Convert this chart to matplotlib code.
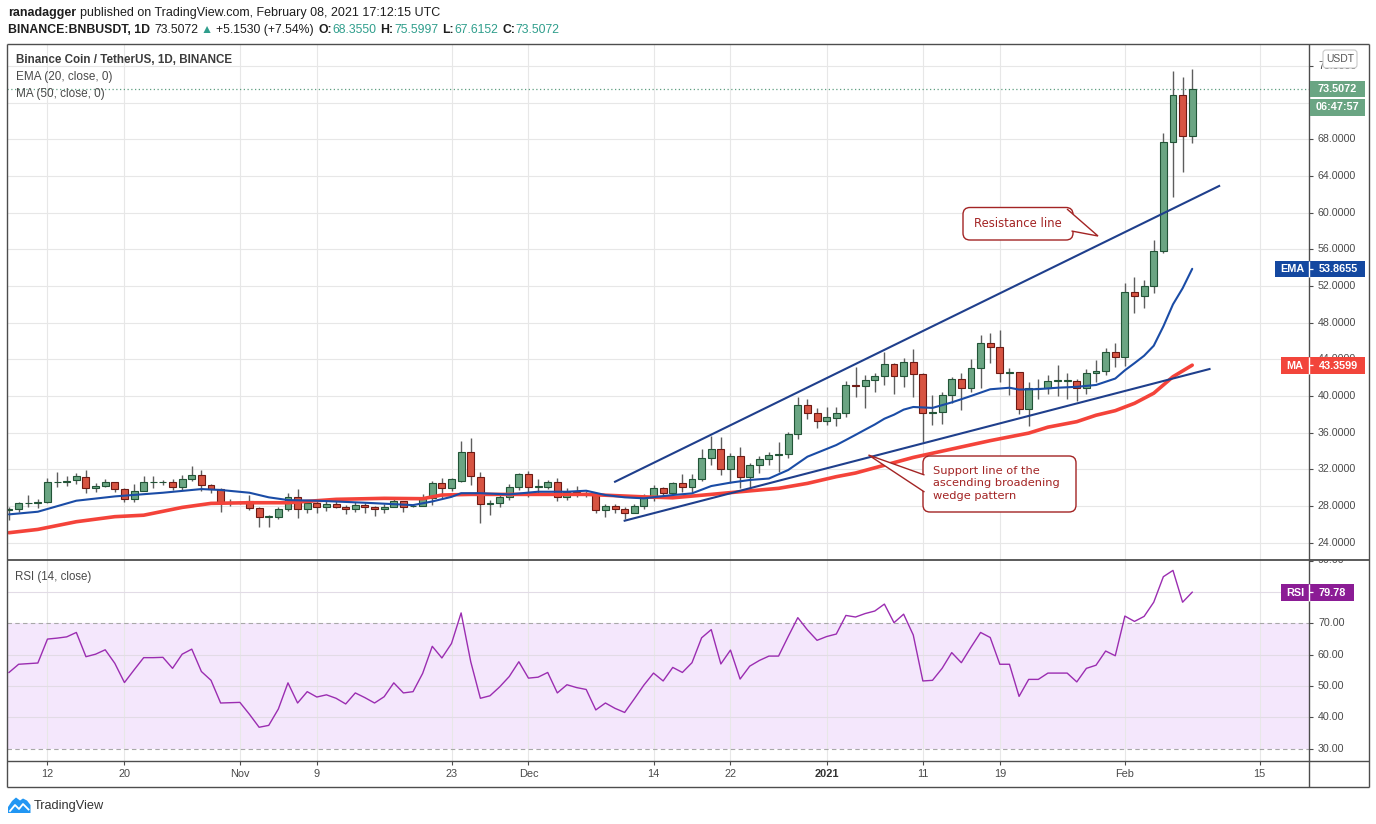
import datetime as dt
import numpy as np
import matplotlib
matplotlib.use('Agg')
import matplotlib.pyplot as plt
import matplotlib.transforms as mtransforms
from matplotlib.patches import Rectangle, FancyBboxPatch, PathPatch, Polygon
from matplotlib.path import Path
from matplotlib.lines import Line2D

# ---------------- data ----------------
first_day = dt.date(2020, 10, 8)

opens = [27.6, 27.64, 28.3, 28.36, 28.4, 30.58, 30.65, 30.8, 31.2, 29.93,
         30.18, 30.58, 29.82, 28.73, 29.6, 30.58, 30.6, 30.58, 30.04, 30.91,
         31.35, 30.25, 29.82, 28.4, 28.43, 28.5, 27.75, 26.8, 26.83, 27.64,
         28.95, 27.64, 28.29, 27.93, 28.22, 27.93, 27.64, 28.07, 27.85, 27.64,
         27.85, 28.5, 27.98, 28.04, 28.84, 30.47, 29.93, 30.73, 33.85, 31.2,
         28.22, 28.36, 29.02, 30.04, 31.45, 30.1, 30.1, 30.58, 28.95, 29.56,
         29.38, 29.27, 27.56, 28.04, 27.64, 27.27, 28.04, 29.02, 29.93, 29.38,
         30.47, 30.1, 30.91, 33.2, 34.18, 32.0, 33.45, 31.13, 32.44, 33.09,
         33.56, 33.67, 35.82, 39.02, 38.1, 37.27, 37.64, 38.11, 41.2, 41.05,
         41.75, 42.18, 43.49, 42.22, 43.75, 42.36, 38.1, 38.22, 40.1, 41.82,
         40.84, 43.0, 45.75, 45.3, 42.47, 42.58, 38.55, 40.84, 40.84, 41.67,
         41.67, 41.67, 40.84, 42.47, 42.76, 44.76, 44.2, 51.38, 50.95, 52.04,
         55.85, 67.64, 72.8, 68.355]
highs = [27.9, 28.47, 29.2, 28.8, 31.09, 31.74, 31.27, 31.64, 31.93, 30.47,
         30.91, 30.65, 29.93, 30.4, 31.27, 31.27, 30.84, 30.9, 31.38, 32.36,
         31.93, 30.4, 29.93, 28.8, 28.6, 29.24, 27.85, 27.0, 27.85, 29.38,
         29.82, 28.65, 28.8, 28.65, 28.65, 28.1, 28.47, 28.36, 28.0, 28.22,
         28.73, 28.58, 28.2, 29.31, 30.76, 31.02, 31.1, 35.09, 35.38, 31.74,
         28.65, 29.45, 30.4, 31.64, 31.86, 30.9, 30.84, 31.02, 29.93, 30.18,
         29.67, 29.38, 28.22, 28.22, 27.85, 28.22, 29.31, 30.29, 30.04, 30.65,
         31.49, 31.49, 34.22, 35.64, 35.49, 33.82, 34.4, 32.73, 33.45, 33.93,
         35.0, 36.04, 39.9, 39.7, 38.65, 38.84, 38.77, 41.64, 43.2, 42.29,
         42.47, 44.84, 43.64, 44.1, 45.1, 42.47, 40.1, 40.47, 42.1, 42.47,
         44.0, 46.65, 46.84, 47.2, 43.0, 42.65, 41.56, 41.82, 42.29, 43.38,
         42.5, 41.82, 42.9, 43.93, 45.2, 45.75, 52.3, 52.95, 52.65, 57.0,
         68.65, 75.45, 74.76, 75.5997]
lows = [26.5, 27.39, 27.9, 27.75, 28.29, 30.1, 30.2, 30.36, 29.45, 29.56,
        30.1, 29.56, 28.4, 28.47, 29.6, 29.93, 30.3, 29.75, 29.75, 30.76,
        29.67, 29.38, 27.39, 28.0, 28.2, 27.56, 25.67, 25.75, 26.55, 27.5,
        26.73, 27.27, 27.27, 27.5, 27.75, 27.1, 27.39, 27.27, 26.9, 27.27,
        27.85, 27.39, 27.85, 28.0, 28.1, 28.84, 29.67, 30.58, 30.29, 26.18,
        27.02, 27.85, 28.65, 29.75, 29.02, 29.38, 29.82, 28.58, 28.65, 28.95,
        28.95, 27.27, 26.84, 27.27, 26.58, 27.2, 27.64, 28.58, 29.2, 29.31,
        29.56, 29.56, 30.76, 32.47, 31.38, 30.47, 29.93, 29.93, 31.64, 32.47,
        31.75, 33.2, 35.27, 37.5, 36.47, 36.84, 36.73, 37.71, 39.9, 38.65,
        40.4, 41.2, 40.18, 41.0, 39.93, 35.0, 36.84, 36.9, 39.2, 38.47,
        40.47, 40.84, 43.56, 41.56, 40.1, 38.04, 36.7, 39.67, 40.22, 40.0,
        39.64, 39.5, 40.2, 41.56, 42.3, 43.2, 43.3, 49.1, 49.64, 51.2,
        55.6, 61.67, 64.4, 67.6152]
closes = [27.7, 28.29, 28.36, 28.38, 30.58, 30.65, 30.76, 31.27, 29.93, 30.18,
          30.58, 29.82, 28.73, 29.6, 30.58, 30.6, 30.62, 30.04, 30.91, 31.35,
          30.25, 29.82, 28.4, 28.43, 28.45, 27.75, 26.76, 26.83, 27.64, 28.95,
          27.64, 28.29, 27.93, 28.22, 27.93, 27.64, 28.07, 27.85, 27.64, 27.85,
          28.5, 27.93, 28.04, 28.84, 30.47, 29.93, 30.91, 33.85, 31.27, 28.22,
          28.36, 29.02, 30.04, 31.45, 30.1, 30.2, 30.58, 28.95, 29.56, 29.38,
          29.27, 27.56, 28.04, 27.64, 27.2, 28.04, 29.02, 29.93, 29.38, 30.47,
          30.1, 30.91, 33.2, 34.18, 32.0, 33.45, 31.13, 32.44, 33.09, 33.56,
          33.67, 35.82, 39.02, 38.1, 37.27, 37.67, 38.11, 41.2, 41.05, 41.75,
          42.18, 43.49, 42.18, 43.75, 42.36, 38.1, 38.22, 40.1, 41.82, 40.84,
          43.0, 45.75, 45.3, 42.47, 42.58, 38.55, 40.84, 40.9, 41.67, 41.7,
          41.7, 40.84, 42.47, 42.76, 44.76, 44.2, 51.38, 50.95, 52.04, 55.85,
          67.64, 72.8, 68.354, 73.5072]

rsi_vals = [54.3, 56.9, 57.1, 57.3, 64.9, 65.2, 65.6, 67.0, 59.3, 60.1,
            61.5, 57.2, 51.1, 55.1, 59.0, 59.0, 59.1, 55.6, 60.1, 61.7,
            54.6, 51.8, 44.6, 44.7, 44.8, 41.0, 36.9, 37.5, 42.7, 51.0,
            44.6, 48.2, 46.5, 47.2, 46.1, 44.3, 47.8, 46.3, 44.6, 46.6,
            51.0, 47.8, 48.2, 54.0, 62.6, 58.9, 63.5, 73.2, 57.7, 46.1,
            46.9, 49.7, 53.0, 57.7, 52.5, 52.8, 54.3, 47.8, 50.4, 49.5,
            48.9, 42.4, 44.6, 42.9, 41.6, 45.9, 50.3, 54.1, 51.6, 55.9,
            54.3, 57.4, 65.3, 67.9, 57.0, 61.4, 52.2, 56.3, 58.1, 59.5,
            59.5, 65.7, 71.7, 67.8, 64.5, 65.7, 66.5, 72.4, 71.9, 73.0,
            73.8, 76.0, 70.1, 72.8, 66.2, 51.6, 51.8, 55.6, 60.6, 57.4,
            62.3, 67.0, 65.4, 56.9, 56.9, 46.7, 52.1, 52.1, 54.1, 54.1,
            54.1, 51.3, 55.6, 56.6, 61.1, 59.6, 72.2, 70.5, 72.1, 76.6,
            84.7, 86.7, 76.6, 79.78]

ema_days = [0, 3, 7, 11, 16, 20, 22, 25, 27, 29, 32, 37, 42, 44, 46, 47, 49, 52, 55, 58,
            60, 62, 64, 66, 69, 71, 73, 75, 77, 79, 81, 83, 86, 87, 88, 89, 90, 91, 92, 93,
            94, 96, 98, 100, 102, 104, 105, 107, 109, 111, 113, 115, 116, 117, 118, 119,
            120, 121, 122, 123]
ema_vals = [27.09, 27.38, 28.58, 29.05, 29.45, 29.85, 29.75, 29.45, 28.95, 28.65,
            28.58, 28.36, 28.1, 28.5, 29.0, 29.4, 29.4, 29.27, 29.56, 29.56,
            29.67, 29.2, 28.95, 28.84, 29.2, 29.38, 30.18, 30.55, 30.84, 31.0,
            31.93, 33.38, 34.65, 35.2, 35.76, 36.33, 36.89, 37.52, 37.96, 38.51,
            38.8, 38.7, 39.3, 40.0, 40.73, 40.9, 40.7, 40.75, 40.9, 41.0,
            41.2, 41.9, 42.8, 43.58, 44.39, 45.48, 47.59, 49.99, 51.74, 53.8655]

ma_days = [0, 3, 7, 11, 14, 18, 21, 25, 29, 34, 39, 43, 45, 48, 55, 60, 66, 69, 73, 76,
           80, 83, 86, 88, 94, 102, 106, 108, 111, 113, 115, 117, 119, 121, 123]
ma_vals = [25.09, 25.45, 26.29, 26.84, 27.0, 27.85, 28.29, 28.36, 28.36, 28.73,
           28.84, 28.8, 29.2, 29.27, 29.27, 29.27, 29.0, 28.9, 29.27, 29.56,
           29.93, 30.47, 31.2, 31.6, 33.3, 35.13, 35.95, 36.6, 37.2, 37.9,
           38.4, 39.2, 40.3, 42.1, 43.3599]

tick_dates = ['2020-10-12', '2020-10-20', '2020-11-01', '2020-11-09', '2020-11-23',
              '2020-12-01', '2020-12-14', '2020-12-22', '2021-01-01', '2021-01-11',
              '2021-01-19', '2021-02-01', '2021-02-15']
tick_labels = ['12', '20', 'Nov', '9', '23', 'Dec', '14', '22', '2021', '11', '19', 'Feb', '15']
price_ticks = [24, 28, 32, 36, 40, 44, 48, 52, 56, 60, 64, 68, 72, 76]
hidden_price_labels = [72]          # fully covered by the countdown label
rsi_ticks = [90, 70, 60, 50, 40, 30]

resistance_days = [63.0, 125.8]
resistance_vals = [30.65, 62.9]
support_days = [64.0, 124.8]
support_vals = [26.4, 42.94]

last_close = 73.5072
last_ema = 53.8655
last_ma = 43.3599
last_rsi = 79.78

# ---------------- style ----------------
plt.rcParams['font.family'] = ['Liberation Sans', 'DejaVu Sans']
GRID = '#e7e7e7'
FRAME = '#4d4d4d'
TXT = '#4a4a4a'
GREEN = '#6ba583'
GREEN_E = '#225437'
RED = '#d75442'
RED_E = '#6e1a14'
WICK = '#5e5e5e'
EMA_C = '#1a4ca6'
MA_C = '#f4433a'
TREND_C = '#1f3f8c'
RSI_C = '#9b2db1'
TEAL = '#2f9e8c'
CALL_C = '#a32424'

W, H = 1376, 824
fig = plt.figure(figsize=(W / 100, H / 100), dpi=100)
fig.patch.set_facecolor('white')
pix = mtransforms.Affine2D().scale(1, -1).translate(0, H)

L_PX, R_PX, T_PX, SEP_PX, RB_PX, TA_PX, BOT_PX = 7, 1309, 44, 559.5, 1369, 761, 787


def fr(x0, y0, x1, y1):
    return [x0 / W, 1 - y1 / H, (x1 - x0) / W, (y1 - y0) / H]


ax = fig.add_axes(fr(L_PX, T_PX, R_PX, SEP_PX))
ax2 = fig.add_axes(fr(L_PX, SEP_PX, R_PX, TA_PX))
for a in (ax, ax2):
    a.set_xlim(-0.208, 135.14)
    for s in a.spines.values():
        s.set_visible(False)
    a.set_xticks([])
    a.set_yticks([])
    a.set_facecolor('none')
ax.set_ylim(22.17, 78.38)
ax2.set_ylim(26.19, 90.16)

tick_days = [(dt.date.fromisoformat(s) - first_day).days for s in tick_dates]

# grid
for v in price_ticks:
    ax.axhline(v, color=GRID, lw=0.8, zorder=0)
for d in tick_days:
    ax.axvline(d, color=GRID, lw=0.8, zorder=0)
    ax2.axvline(d, color=GRID, lw=0.8, zorder=1)

# candles
x = np.arange(len(closes))
o = np.array(opens); c = np.array(closes); h = np.array(highs); l = np.array(lows)
up = c >= o
fills = [GREEN if u else RED for u in up]
edges = [GREEN_E if u else RED_E for u in up]
ax.vlines(x, l, h, colors=WICK, lw=1.0, zorder=3)
ax.bar(x, np.maximum(np.abs(c - o), 0.06), bottom=np.minimum(o, c), width=0.72,
       color=fills, edgecolor=edges, linewidth=0.8, zorder=4)

# indicators
ax.plot(ma_days, ma_vals, color=MA_C, lw=2.6, zorder=5, solid_capstyle='round')
ax.plot(ema_days, ema_vals, color=EMA_C, lw=1.5, zorder=6, solid_capstyle='round')
ax.plot(resistance_days, resistance_vals, color=TREND_C, lw=1.5, zorder=7)
ax.plot(support_days, support_vals, color=TREND_C, lw=1.5, zorder=7)
ax.axhline(last_close, color='#5f9f80', lw=0.9, ls=(0, (1, 2)), zorder=2)

# RSI pane
ax2.axhspan(30, 70, color='#f4e7fc', zorder=0, lw=0)
for v in [40, 50, 60, 80]:
    ax2.axhline(v, color='#e2dbe6', lw=0.8, zorder=1)
for v in [30, 70]:
    ax2.axhline(v, color='#a8a8a8', lw=0.8, ls=(0, (4, 3)), zorder=2)
ax2.plot(x, rsi_vals, color=RSI_C, lw=1.0, zorder=4)


# ---------------- figure-level helpers ----------------
def line(xs, ys, color=FRAME, lw=1.0, z=10):
    fig.add_artist(Line2D(xs, ys, transform=pix, color=color, lw=lw, solid_capstyle='butt', zorder=z))


def ptext(xp, yp, s, **kw):
    kw.setdefault('va', 'center')
    return fig.text(xp, yp, s, transform=pix, **kw)


def rect(x0, y0, x1, y1, color, z=11):
    fig.add_artist(Rectangle((x0, y0), x1 - x0, y1 - y0, transform=pix,
                             facecolor=color, edgecolor='none', zorder=z))


def ypx(a, v):
    return H - a.transData.transform((0, v))[1]


def xpx(d):
    return ax.transData.transform((d, 0))[0]


# frame
line([L_PX, RB_PX], [T_PX, T_PX])
line([L_PX, RB_PX], [SEP_PX, SEP_PX], lw=1.3)
line([L_PX, RB_PX], [TA_PX, TA_PX])
line([L_PX, RB_PX], [BOT_PX, BOT_PX])
line([L_PX, L_PX], [T_PX, BOT_PX])
line([RB_PX, RB_PX], [T_PX, BOT_PX])
line([R_PX, R_PX], [T_PX, BOT_PX])

# price axis labels
for v in price_ticks:
    yp = ypx(ax, v)
    if v not in hidden_price_labels:
        ptext(1318, yp, f'{v:.4f}', fontsize=7.7, color=TXT, ha='left')
    line([R_PX, R_PX + 4], [yp, yp], lw=0.8)

clip = mtransforms.Bbox.from_extents(R_PX, H - BOT_PX, RB_PX, H - SEP_PX - 0.8)
for v in rsi_ticks:
    yp = ypx(ax2, v)
    t = ptext(1318, yp, f'{v:.2f}', fontsize=7.7, color=TXT, ha='left')
    t.set_clip_box(clip)
    t.set_clip_on(True)
    line([R_PX, R_PX + 4], [max(yp, SEP_PX + 1.2)] * 2, lw=0.8)

# time axis labels
for d, lab in zip(tick_days, tick_labels):
    xp = xpx(d)
    ptext(xp, 774, lab, fontsize=7.9, color=('#333333' if lab == '2021' else TXT),
          ha='center', fontweight=('bold' if lab == '2021' else 'normal'))
    line([xp, xp], [TA_PX, TA_PX + 4], lw=0.8)

# USDT box
fig.add_artist(FancyBboxPatch((1323, 50), 34, 18, boxstyle='round,pad=0,rounding_size=3',
                              transform=pix, fc='white', ec='#c8c8c8', lw=0.8, zorder=12))
ptext(1340, 59.5, 'USDT', fontsize=7.5, color='#555555', ha='center', zorder=13)

# last price / countdown
LBL_G = '#6aa583'
yc = ypx(ax, last_close)
rect(1310, yc - 8, 1365, yc + 8.5, LBL_G)
ptext(1337.5, yc + 0.5, f'{last_close:.4f}', fontsize=7.8, color='white', fontweight='bold', ha='center', zorder=13)
rect(1310, yc + 10, 1365, yc + 27, LBL_G)
ptext(1337.5, yc + 18.5, '06:47:57', fontsize=7.8, color='white', fontweight='bold', ha='center', zorder=13)


def value_label(x0, x1, yv, color, name, name_x, val, val_x):
    rect(x0, yv - 8, x1, yv + 8.5, color)
    line([R_PX, R_PX], [yv - 8, yv + 8.5], color='white', lw=1.0, z=12)
    line([R_PX, R_PX + 4], [yv, yv], color='white', lw=0.9, z=12)
    ptext(name_x, yv + 0.5, name, fontsize=7.8, color='white', fontweight='bold', ha='center', zorder=13)
    ptext(val_x, yv + 0.5, val, fontsize=7.8, color='white', fontweight='bold', ha='center', zorder=13)


value_label(1275, 1365, ypx(ax, last_ema), '#1448a0', 'EMA', 1292, f'{last_ema:.4f}', 1338.5)
value_label(1281, 1365, ypx(ax, last_ma), '#f2453b', 'MA', 1295, f'{last_ma:.4f}', 1338.5)
value_label(1281, 1354, ypx(ax2, last_rsi), '#8b1c95', 'RSI', 1295, f'{last_rsi:.2f}', 1332.5)

# pane legends
ptext(16, 60, 'Binance Coin / TetherUS, 1D, BINANCE', fontsize=8.4, color='#3c3c3c',
      ha='left', fontweight='bold')
ptext(16, 77, 'EMA (20, close, 0)', fontsize=8.5, color=TXT, ha='left')
ptext(16, 94, 'MA (50, close, 0)', fontsize=8.5, color=TXT, ha='left')
ptext(15, 577, 'RSI (14, close)', fontsize=8.3, color=TXT, ha='left')

# header
renderer = fig.canvas.get_renderer()


def seq(xp, yp, parts, size):
    for s, col, wt, gap in parts:
        t = ptext(xp, yp, s, fontsize=size, color=col, fontweight=wt, ha='left')
        xp += t.get_window_extent(renderer=renderer).width + gap


HC = '#1e1e1e'
seq(8, 13, [('ranadagger', HC, 'bold', 3.5),
            ('published on TradingView.com, February 08, 2021 17:12:15 UTC', HC, 'normal', 0)], 9.0)
seq(8, 30, [('BINANCE:BNBUSDT, 1D', HC, 'bold', 4),
            ('73.5072', HC, 'normal', 3),
            ('\u25b2', TEAL, 'normal', 3),
            ('+5.1530 (+7.54%)', HC, 'normal', 4.5),
            ('O:', HC, 'bold', 0.5), ('68.3550', TEAL, 'normal', 4),
            ('H:', HC, 'bold', 0.5), ('75.5997', TEAL, 'normal', 4),
            ('L:', HC, 'bold', 0.5), ('67.6152', TEAL, 'normal', 4),
            ('C:', HC, 'bold', 0.5), ('73.5072', TEAL, 'normal', 0)], 8.85)


# callouts
def callout(x0, y0, x1, y1, tail):
    fig.add_artist(FancyBboxPatch((x0, y0), x1 - x0, y1 - y0,
                                  boxstyle='round,pad=0,rounding_size=7', transform=pix,
                                  fc='white', ec=CALL_C, lw=1.0, zorder=20))
    p = Path(tail, [Path.MOVETO, Path.LINETO, Path.LINETO])
    fig.add_artist(PathPatch(p, transform=pix, fc='white', ec=CALL_C, lw=1.0, zorder=21))


callout(963, 207.5, 1073, 240, [(1067, 209), (1098, 236), (1071.5, 231)])
ptext(1018, 223.5, 'Resistance line', fontsize=8.4, color=CALL_C, ha='center',
      family='DejaVu Sans', zorder=22)

callout(923, 456, 1076, 512, [(924.5, 475), (868.5, 455), (924.5, 492)])
for i, s in enumerate(['Support line of the', 'ascending broadening', 'wedge pattern']):
    ptext(933, 471 + 12.3 * i, s, fontsize=8.2, color=CALL_C, ha='left',
          family='DejaVu Sans', zorder=22)

# TradingView logo
fig.add_artist(Polygon([(8, 813), (8, 807), (12, 801), (16, 797.5), (20, 800.5), (23, 798.5),
                        (27, 800.5), (30.5, 805), (30.5, 813)], closed=True, transform=pix,
                       fc='#2196f3', ec='none', zorder=10))
fig.add_artist(Line2D([10, 15, 19, 23, 28.5], [811, 805, 809, 804, 809.5], transform=pix,
                      color='white', lw=1.3, zorder=11))
ptext(34, 805.5, 'TradingView', fontsize=9.2, color='#333333', ha='left')

fig.savefig('out.png', dpi=100, facecolor='white')
